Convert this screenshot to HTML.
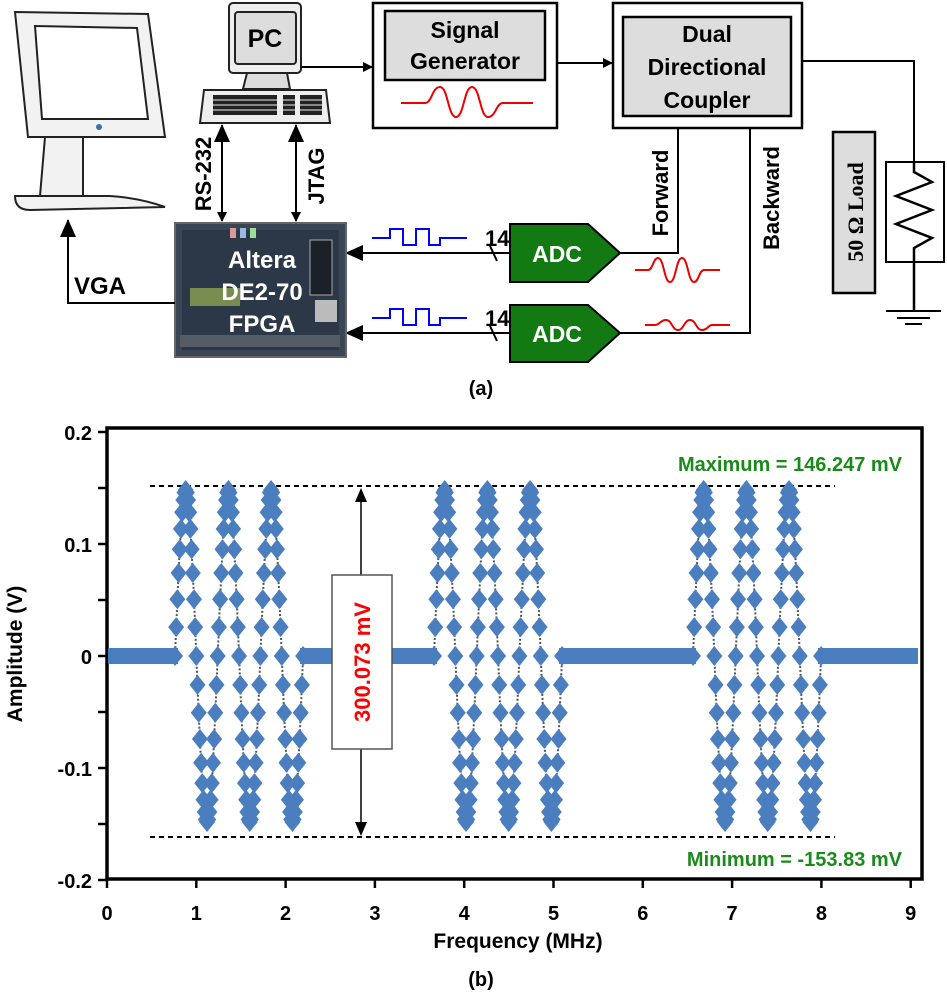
<!DOCTYPE html>
<html><head><meta charset="utf-8"><style>
html,body{margin:0;padding:0;background:#fff;}
svg{display:block;font-family:"Liberation Sans",Arial,sans-serif;font-weight:bold;}
</style></head><body>
<svg id="s" width="947" height="1000" viewBox="0 0 947 1000" xmlns="http://www.w3.org/2000/svg">
<defs>
<marker id="ah" markerWidth="10" markerHeight="10" refX="9" refY="5" orient="auto" markerUnits="userSpaceOnUse"><path d="M0,0 L10,5 L0,10 z" fill="#000"/></marker>
<marker id="ahb" markerWidth="18" markerHeight="16" refX="17" refY="8" orient="auto" markerUnits="userSpaceOnUse"><path d="M0,0 L18,8 L0,16 z" fill="#000"/></marker>
<marker id="ahs" markerWidth="18" markerHeight="16" refX="1" refY="8" orient="auto" markerUnits="userSpaceOnUse"><path d="M18,0 L0,8 L18,16 z" fill="#000"/></marker>
</defs>
<!-- Monitor -->
<g stroke="#222" stroke-width="2" fill="#f2f2f2">
<path d="M15,12 L148,14 L165,137 L28,137 Z"/>
<path d="M35,26 L137,28 L148,119 L42,119 Z" fill="#fff"/>
<path d="M45,137 L83,137 L83,196 L40,196 Z"/>
<path d="M15,196 Q15,210 30,210 L165,207 Q140,198 110,196 Z"/>
</g>
<circle cx="99" cy="127" r="3" fill="#3b6fb5"/>
<!-- PC -->
<g stroke="#222" stroke-width="2">
<rect x="229" y="3" width="72" height="70" rx="4" fill="#eee"/>
<rect x="235" y="12" width="61" height="52" rx="3" fill="#ddd"/>
<path d="M247,73 L287,73 L290,89 L243,89 Z" fill="#ddd"/>
<path d="M204,90 L326,90 L330,123 L200,123 Z" fill="#eee"/>
</g>
<g fill="#222"><rect x="213" y="95" width="64" height="20"/><rect x="283" y="95" width="12" height="20"/><rect x="300" y="95" width="22" height="20"/></g>
<g stroke="#eee" stroke-width="1"><line x1="213" y1="100" x2="322" y2="100"/><line x1="213" y1="105" x2="322" y2="105"/><line x1="213" y1="110" x2="322" y2="110"/></g>
<text x="265" y="47" font-size="25" text-anchor="middle">PC</text>
<line x1="301" y1="67" x2="372" y2="67" stroke="#000" stroke-width="2" marker-end="url(#ah)"/>
<!-- Signal Generator -->
<rect x="373" y="3" width="184" height="125" fill="#fff" stroke="#000" stroke-width="2.5"/>
<rect x="385" y="11" width="160" height="69" fill="#ddd" stroke="#000" stroke-width="2.5"/>
<text x="465" y="38" font-size="23" text-anchor="middle">Signal</text>
<text x="465" y="69" font-size="23" text-anchor="middle">Generator</text>
<path d="M401,103 L425,103 C432,103 432,87 440,87 C448,87 448,117 456,117 C464,117 464,87 472,87 C480,87 480,117 488,117 C496,117 496,103 503,103 L533,103" fill="none" stroke="#e00" stroke-width="2"/>
<line x1="557" y1="63" x2="612" y2="63" stroke="#000" stroke-width="2" marker-end="url(#ah)"/>
<!-- Coupler -->
<rect x="613" y="3" width="189" height="125" fill="#fff" stroke="#000" stroke-width="2.5"/>
<rect x="623" y="17" width="168" height="99" fill="#ddd" stroke="#000" stroke-width="2.5"/>
<text x="707" y="42" font-size="23" text-anchor="middle">Dual</text>
<text x="707" y="75" font-size="23" text-anchor="middle">Directional</text>
<text x="707" y="108" font-size="23" text-anchor="middle">Coupler</text>
<!-- load -->
<polyline points="802,61 914,61 914,172" fill="none" stroke="#000" stroke-width="2"/>
<rect x="886" y="162" width="58" height="100" fill="#fff" stroke="#000" stroke-width="2"/>
<polyline points="914,162 914,172 932,182 896,196 932,210 896,224 932,238 914,248 914,310" fill="none" stroke="#000" stroke-width="2.5"/>
<g stroke="#000" stroke-width="2"><line x1="886" y1="311" x2="941" y2="311"/><line x1="897" y1="318" x2="930" y2="318"/><line x1="905" y1="324" x2="922" y2="324"/></g>
<rect x="833" y="132" width="42" height="161" fill="#ddd" stroke="#000" stroke-width="2.5"/>
<text transform="translate(863,212) rotate(-90)" font-size="22" text-anchor="middle" font-family="Liberation Serif,serif">50 Ω Load</text>
<!-- forward/backward -->
<polyline points="678,128 678,253 620,253" fill="none" stroke="#000" stroke-width="2"/>
<polyline points="750,128 750,333 620,333" fill="none" stroke="#000" stroke-width="2"/>
<text transform="translate(668,193) rotate(-90)" font-size="22" text-anchor="middle">Forward</text>
<text transform="translate(779,198) rotate(-90)" font-size="22" text-anchor="middle">Backward</text>
<path d="M635,270 L648,270 C653,270 653,258 658,258 C664,258 664,282 670,282 C676,282 676,258 682,258 C688,258 688,282 694,282 C699,282 699,270 704,270 L720,270" fill="none" stroke="#e00" stroke-width="2"/>
<path d="M645,325 L655,325 C660,325 660,320 666,320 C672,320 672,330 678,330 C684,330 684,320 690,320 C696,320 696,330 702,330 C708,330 708,325 712,325 L730,325" fill="none" stroke="#e00" stroke-width="2"/>
<!-- ADCs -->
<path d="M510,224 L588,224 L620,253 L588,282 L510,282 Z" fill="#137a13" stroke="#000" stroke-width="2"/>
<path d="M510,305 L588,305 L620,333 L588,362 L510,362 Z" fill="#137a13" stroke="#000" stroke-width="2"/>
<text x="557" y="262" font-size="23" fill="#fff" text-anchor="middle">ADC</text>
<text x="557" y="342" font-size="23" fill="#fff" text-anchor="middle">ADC</text>
<line x1="510" y1="253" x2="346" y2="253" stroke="#000" stroke-width="2" marker-end="url(#ahb)"/>
<line x1="510" y1="333" x2="346" y2="333" stroke="#000" stroke-width="2" marker-end="url(#ahb)"/>
<line x1="490" y1="246" x2="497" y2="261" stroke="#000" stroke-width="2"/>
<line x1="490" y1="326" x2="497" y2="341" stroke="#000" stroke-width="2"/>
<text x="485" y="246" font-size="22">14</text>
<text x="485" y="326" font-size="22">14</text>
<polyline points="372,238 390,238 390,229 403,229 403,245 416,245 416,229 429,229 429,245 440,245 440,238 467,238" fill="none" stroke="#00f" stroke-width="2"/>
<polyline points="372,318 390,318 390,309 403,309 403,325 416,325 416,309 429,309 429,325 440,325 440,318 467,318" fill="none" stroke="#00f" stroke-width="2"/>
<!-- FPGA -->
<rect x="175" y="223" width="171" height="134" fill="#3a4656" stroke="#666" stroke-width="2"/>
<rect x="182" y="230" width="157" height="120" fill="#2c3848"/>
<rect x="310" y="240" width="22" height="55" fill="#1c2028" stroke="#aaa"/>
<rect x="315" y="300" width="22" height="22" fill="#bbb"/>
<rect x="190" y="288" width="50" height="18" fill="#7a8d50"/>
<rect x="180" y="335" width="160" height="12" fill="#555c66"/>
<rect x="230" y="228" width="6" height="10" fill="#d99"/><rect x="240" y="228" width="6" height="10" fill="#9bd"/><rect x="250" y="228" width="6" height="10" fill="#9d9"/>
<text x="262" y="268" font-size="24" fill="#fff" text-anchor="middle">Altera</text>
<text x="262" y="300" font-size="24" fill="#fff" text-anchor="middle">DE2-70</text>
<text x="262" y="332" font-size="24" fill="#fff" text-anchor="middle">FPGA</text>
<line x1="222" y1="125" x2="222" y2="221" stroke="#000" stroke-width="2" marker-start="url(#ahs)" marker-end="url(#ah)"/>
<line x1="296" y1="125" x2="296" y2="221" stroke="#000" stroke-width="2" marker-start="url(#ahs)" marker-end="url(#ah)"/>
<text transform="translate(211,174) rotate(-90)" font-size="22" text-anchor="middle">RS-232</text>
<text transform="translate(324,176) rotate(-90)" font-size="22" text-anchor="middle">JTAG</text>
<polyline points="175,303 68,303 68,220" fill="none" stroke="#000" stroke-width="2" marker-end="url(#ahb)"/>
<text x="74" y="294" font-size="24">VGA</text>
<text x="481" y="395" font-size="20" text-anchor="middle">(a)</text>

<!-- Plot -->
<rect x="107" y="428" width="815" height="451" fill="#fff" stroke="#000" stroke-width="3.5"/>
<g id="ticks" stroke="#000" stroke-width="2.5"></g>
<g id="ylab" font-size="20" text-anchor="end">
<text x="92" y="440">0.2</text><text x="92" y="552">0.1</text><text x="92" y="664">0</text><text x="92" y="776">-0.1</text><text x="92" y="888">-0.2</text>
</g>
<g id="xlab" font-size="20" text-anchor="middle"></g>
<text transform="translate(22,654) rotate(-90)" font-size="21" text-anchor="middle">Amplitude (V)</text>
<text x="518" y="948" font-size="21" text-anchor="middle">Frequency (MHz)</text>
<text x="481" y="986" font-size="20" text-anchor="middle">(b)</text>
<line x1="150" y1="486" x2="835" y2="486" stroke="#000" stroke-width="2" stroke-dasharray="5,4"/>
<line x1="150" y1="837" x2="835" y2="837" stroke="#000" stroke-width="2" stroke-dasharray="5,4"/>
<g id="data"></g>
<line x1="361" y1="492" x2="361" y2="832" stroke="#000" stroke-width="1.5"/>
<path d="M355,502 L361,488 L367,502 Z M355,822 L361,836 L367,822 Z" fill="#000"/>
<rect x="332" y="575" width="60" height="174" fill="#fff" stroke="#555" stroke-width="1.5"/>
<text transform="translate(370,662) rotate(-90)" font-size="22" fill="#f00" text-anchor="middle">300.073 mV</text>
<text x="902" y="471" font-size="20" fill="#1a8a1a" text-anchor="end">Maximum = 146.247 mV</text>
<text x="902" y="866" font-size="20" fill="#1a8a1a" text-anchor="end">Minimum = -153.83 mV</text>
</svg>
<script>
var NS="http://www.w3.org/2000/svg";
function el(p,t,a,txt){var e=document.createElementNS(NS,t);for(var k in a)e.setAttribute(k,a[k]);if(txt!=null)e.textContent=txt;p.appendChild(e);return e;}
var tk=document.getElementById('ticks'),xl=document.getElementById('xlab'),d=document.getElementById('data');
for(var i=0;i<=9;i++){var x=107+i*89.3;el(tk,'line',{x1:x,y1:879,x2:x,y2:888});el(xl,'text',{x:x,y:920},i);}
for(var j=0;j<=8;j++){var y=432+j*56;el(tk,'line',{x1:98,y1:y,x2:107,y2:y});}
var z=656,A=166,P=42.7;
var starts=[175,434,693];
var segs=[[108,178],[300,437],[559,696],[818,918]];
segs.forEach(function(s){el(d,'rect',{x:s[0],y:z-8,width:s[1]-s[0],height:16,fill:'#4a7ebf'});});
starts.forEach(function(x0){
 var pts=[];var S=36,N=3*S;
 for(var k=0;k<=N;k++){var ph=k/S*2*Math.PI;var x=x0+k/S*P;var y=z-A*Math.sin(ph);pts.push([x,y]);}
 el(d,'polyline',{points:pts.map(function(p){return p[0].toFixed(1)+','+p[1].toFixed(1)}).join(' '),fill:'none',stroke:'#555',"stroke-width":2,"stroke-dasharray":"2,2"});
 pts.forEach(function(p){var x=p[0],y=p[1];el(d,'path',{d:'M'+x+','+(y-10)+' L'+(x+8)+','+y+' L'+x+','+(y+10)+' L'+(x-8)+','+y+' Z',fill:'#4a7ebf'});});
});
</script>
</body></html>
